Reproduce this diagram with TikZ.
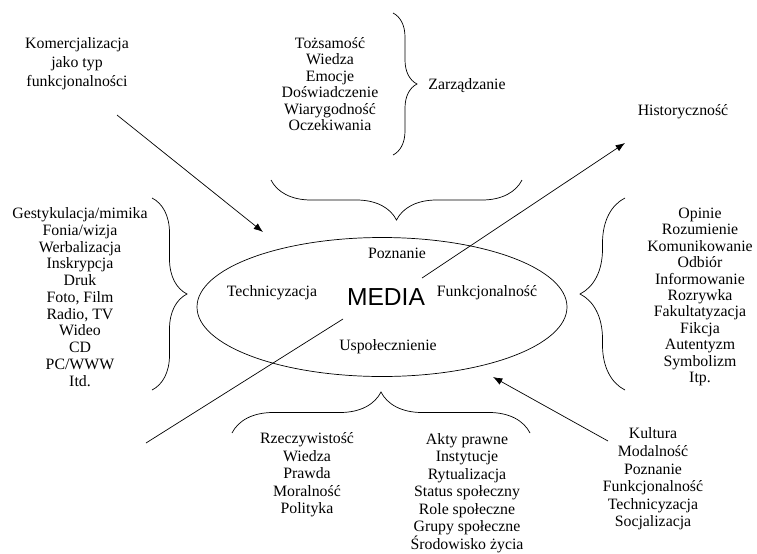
\documentclass[tikz,border=0pt]{standalone}
\usepackage{fontspec}
\setmainfont{Liberation Serif}
\newfontfamily\mediafont{Liberation Sans}
\usepackage{tikz}
\usetikzlibrary{arrows.meta,shapes,decorations.pathreplacing}

\begin{document}
\begin{tikzpicture}[x=0.03cm, y=0.03cm, line width=0.6pt,
    lista/.style={align=center, inner sep=0pt, font=\fontsize{13.5}{#1}\selectfont},
    lista/.default=14.3pt,
    klamra/.style={decorate, decoration={brace, amplitude=#1}},
    strzalka/.style={-{Latex[length=8pt, width=6pt]}}]
      \useasboundingbox (0,0) rectangle (757,-553);

      % central ellipse
      \node[ellipse, draw, minimum width=370*0.03cm, minimum height=139*0.03cm] (media) at (382,-307) {};
      \node[font=\mediafont\fontsize{21}{24}\selectfont] (mediatxt) at (386,-297) {MEDIA};
      \node[lista] (poznanie) at (397,-253) {Poznanie};
      \node[lista] (technic) at (272,-293) {Technicyzacja};
      \node[lista] (funkc) at (487,-293) {Funkcjonalność};
      \node[lista] (uspol) at (388,-347) {Uspołecznienie};

      % top
      \node[lista=16.3pt] (komerc) at (77,-64) {Komercjalizacja\\jako typ\\funkcjonalności};
      \node[lista=14pt] (tozsam) at (330,-84) {Tożsamość\\Wiedza\\Emocje\\Doświadczenie\\Wiarygodność\\Oczekiwania};
      \node[lista] (zarz) at (467,-86) {Zarządzanie};
      \node[lista] (histor) at (683,-112) {Historyczność};
      \draw[klamra=0.72cm] (393,-13) -- (393,-155);
      \draw[klamra=1.2cm] (522,-180) -- (271,-180);

      % left and right
      \node[lista] (techlist) at (80,-297) {Gestykulacja/mimika\\Fonia/wizja\\Werbalizacja\\Inskrypcja\\Druk\\Foto, Film\\Radio, TV\\Wideo\\CD\\PC/WWW\\Itd.};
      \node[lista=14pt] (funklist) at (700,-297) {Opinie\\Rozumienie\\Komunikowanie\\Odbiór\\Informowanie\\Rozrywka\\Fakultatyzacja\\Fikcja\\Autentyzm\\Symbolizm\\Itp.};
      \draw[klamra=1.05cm] (152,-198) -- (152,-390);
      \draw[klamra=1.35cm] (625,-390) -- (625,-198);

      % bottom
      \draw[klamra=1.23cm] (232,-433) -- (530,-433);
      \node[lista=15pt] (rzecz) at (307,-475) {Rzeczywistość\\Wiedza\\Prawda\\Moralność\\Polityka};
      \node[lista=15pt] (akty) at (467,-493) {Akty prawne\\Instytucje\\Rytualizacja\\Status społeczny\\Role społeczne\\Grupy społeczne\\Środowisko życia};
      \node[lista=15pt] (kultura) at (653,-479) {Kultura\\Modalność\\Poznanie\\Funkcjonalność\\Technicyzacja\\Socjalizacja};

      % arrows
      \coordinate (k1) at (117,-115);
      \coordinate (k2) at (263,-232);
      \coordinate (h1) at (422,-278);
      \coordinate (h2) at (625,-143);
      \coordinate (s1) at (343,-319);
      \coordinate (s2) at (146,-443);
      \coordinate (c1) at (608,-441);
      \coordinate (c2) at (493,-377);
      \draw[strzalka] (k1) -- (k2);
      \draw[strzalka] (h1) -- (h2);
      \draw (s1) -- (s2);
      \draw[strzalka] (c1) -- (c2);
\end{tikzpicture}
\end{document}
